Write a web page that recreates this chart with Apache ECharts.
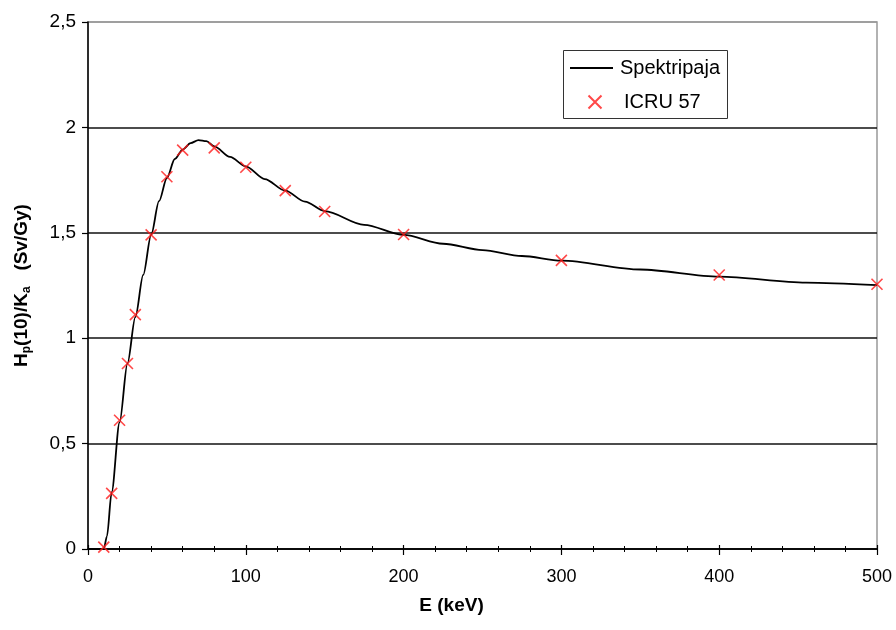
<!DOCTYPE html>
<html>
<head>
<meta charset="utf-8">
<script src="https://cdn.jsdelivr.net/npm/echarts@6/dist/echarts.min.js"></script>
<style>
  html, body { margin: 0; padding: 0; background: #fff; }
  #chart { width: 896px; height: 630px; }
</style>
</head>
<body>
<div id="chart"></div>
<script>
// Spectrum-weighted conversion coefficient curve (energy in keV, Hp(10)/Ka in Sv/Gy)
var spectrumE = [0, 10, 12, 15, 20, 25, 30, 35, 40, 45, 50, 55, 60, 65, 70, 75, 80, 90, 100, 112, 125, 137.5, 150, 175, 200, 225, 250, 275, 300, 350, 400, 455, 500];
var spectrumV = [0, 0, 0.06, 0.27, 0.60, 0.88, 1.10, 1.30, 1.49, 1.65, 1.76, 1.85, 1.895, 1.925, 1.94, 1.935, 1.91, 1.86, 1.815, 1.755, 1.70, 1.648, 1.603, 1.538, 1.49, 1.448, 1.418, 1.39, 1.368, 1.326, 1.292, 1.264, 1.252];

// ICRU 57 reference values
var icruE = [10, 15, 20, 25, 30, 40, 50, 60, 80, 100, 125, 150, 200, 300, 400, 500];
var icruV = [0.009, 0.264, 0.611, 0.88, 1.112, 1.490, 1.766, 1.892, 1.903, 1.811, 1.70, 1.601, 1.492, 1.369, 1.300, 1.256];

var yTicks = ['0', '0,5', '1', '1,5', '2', '2,5'];

var seriesNames = ['Spektripaja', 'ICRU 57'];

function pairs(xs, ys) {
  return xs.map(function (x, i) { return [x, ys[i]]; });
}

var crossPath = 'path://M0,0L10,10M10,0L0,10';
var font = 'Liberation Sans, Arial, sans-serif';
var markerRed = '#ff1a1a';

var chart = echarts.init(document.getElementById('chart'), null, { renderer: 'canvas' });

var baseX = {
  type: 'value',
  min: 0, max: 500, interval: 100,
  position: 'bottom'
};

chart.setOption({
  backgroundColor: '#fff',
  animation: false,
  textStyle: { fontFamily: font, color: '#000' },
  grid: {
    left: 88, right: 19, top: 22, bottom: 81,
    show: true, borderColor: '#999', borderWidth: 1.5, backgroundColor: 'transparent'
  },
  // legend frame
  graphic: [{
    type: 'rect',
    left: 563, top: 50,
    shape: { width: 164, height: 68 },
    style: { fill: '#fff', stroke: '#333', lineWidth: 1 },
    z: 10
  }],
  legend: [
    {
      orient: 'vertical',
      left: 570, top: 58,
      padding: 0,
      itemWidth: 43, itemHeight: 2,
      icon: 'rect',
      selectedMode: false,
      textStyle: { fontFamily: font, fontSize: 20, color: '#000', padding: [0, 0, 0, 2] },
      data: [{ name: seriesNames[0], itemStyle: { color: '#000' } }],
      z: 11
    },
    {
      orient: 'vertical',
      left: 586, top: 92,
      padding: 0,
      itemWidth: 14, itemHeight: 13,
      selectedMode: false,
      textStyle: { fontFamily: font, fontSize: 20, color: '#000', padding: [0, 0, 0, 17] },
      data: [seriesNames[1]],
      z: 11
    }
  ],
  xAxis: [
    Object.assign({}, baseX, {
      name: 'E (keV)',
      nameLocation: 'middle',
      nameGap: 47,
      nameTextStyle: { fontFamily: font, fontSize: 19, fontWeight: 'bold', color: '#000', padding: [0, 62, 0, 0] },
      axisLine: { show: true, lineStyle: { color: '#000', width: 1.5 } },
      axisTick: { show: true, inside: false, length: 6, lineStyle: { color: '#000', width: 1.2 } },
      minorTick: { show: true, splitNumber: 5, length: 3, lineStyle: { color: '#000', width: 1 } },
      axisLabel: { fontFamily: font, fontSize: 18, color: '#000', margin: 19 },
      splitLine: { show: false }
    }),
    Object.assign({}, baseX, {
      axisLine: { show: false },
      axisTick: { show: true, inside: true, length: 4, lineStyle: { color: '#000', width: 1.2 } },
      minorTick: { show: true, splitNumber: 5, length: 3, lineStyle: { color: '#000', width: 1 } },
      axisLabel: { show: false },
      splitLine: { show: false }
    })
  ],
  yAxis: {
    type: 'value',
    min: 0, max: 2.5, interval: 0.5,
    name: '{b|H}{s|p}{b|(10)/K}{s|a}{b|   (Sv/Gy)}',
    nameLocation: 'middle',
    nameGap: 55,
    nameRotate: 90,
    nameTextStyle: {
      fontFamily: font, color: '#000',
      rich: {
        b: { fontFamily: font, fontSize: 19, fontWeight: 'bold', color: '#000' },
        s: { fontFamily: font, fontSize: 12, fontWeight: 'bold', color: '#000', padding: [10, 0, 0, 0] }
      }
    },
    axisLine: { show: true, lineStyle: { color: '#000', width: 1.5 } },
    axisTick: { show: true, inside: false, length: 6, lineStyle: { color: '#000', width: 1.2 } },
    axisLabel: {
      fontFamily: font, fontSize: 19, color: '#000', margin: 12,
      formatter: function (v) { return yTicks[Math.round(v / 0.5)]; }
    },
    splitLine: {
      show: true,
      lineStyle: { color: ['#000', '#111', '#111', '#111', '#111', '#999'], width: 1.5 }
    }
  },
  series: [
    {
      name: seriesNames[0],
      type: 'line',
      data: pairs(spectrumE, spectrumV),
      showSymbol: false,
      symbol: 'none',
      smooth: 0.3,
      smoothMonotone: 'x',
      lineStyle: { color: '#000', width: 1.8 },
      itemStyle: { color: '#000' },
      z: 3
    },
    {
      name: seriesNames[1],
      type: 'scatter',
      data: pairs(icruE, icruV),
      symbol: crossPath,
      symbolSize: 11,
      itemStyle: { color: 'none', borderColor: markerRed, borderWidth: 1.6 },
      z: 4
    }
  ]
});
</script>
</body>
</html>
